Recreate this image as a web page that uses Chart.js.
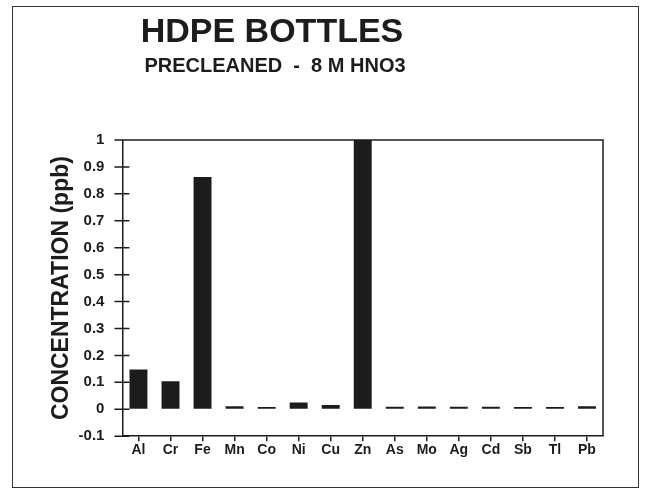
<!DOCTYPE html>
<html>
<head>
<meta charset="utf-8">
<script src="https://cdn.jsdelivr.net/npm/chart.js@4"></script>
<style>
    html, body { margin: 0; padding: 0; background: #fff; }
    #wrap { position: relative; width: 649px; height: 492px; }
    #frame { position: absolute; left: 12px; top: 6px; width: 625px; height: 480px; border: 1.5px solid #333; }
    canvas { position: absolute; left: 0; top: 0; }
</style>
</head>
<body>
<div id="wrap">
    <div id="frame"></div>
    <canvas id="chart" width="649" height="492"></canvas>
</div>
<script>
const elements = ['Al', 'Cr', 'Fe', 'Mn', 'Co', 'Ni', 'Cu', 'Zn', 'As', 'Mo', 'Ag', 'Cd', 'Sb', 'Tl', 'Pb'];
const concentration = [0.148, 0.104, 0.863, 0.011, 0.008, 0.025, 0.016, 1.0, 0.009, 0.010, 0.009, 0.009, 0.008, 0.008, 0.011];
const yMin = -0.1;
const yMax = 1;
const yStep = 0.1;

const ink = '#1c1c1c';
const font = "'Liberation Sans', Arial, sans-serif";

// titles centred a bit left of the canvas middle, like the scan
const titles = {
    id: 'titles',
    afterDraw(chart) {
        const ctx = chart.ctx;
        ctx.save();
        ctx.fillStyle = ink;
        ctx.textAlign = 'center';
        ctx.textBaseline = 'alphabetic';
        ctx.font = 'bold 34px ' + font;
        ctx.fillText('HDPE BOTTLES', 272, 42);
        ctx.font = 'bold 20px ' + font;
        ctx.fillText('PRECLEANED  -  8 M HNO3', 275, 72);
        ctx.restore();
    }
};

// y ticks crossing the axis, plus the top/right box lines
const axisBox = {
    id: 'axisBox',
    afterDraw(chart) {
        const {ctx, chartArea} = chart;
        const y = chart.scales.y;
        ctx.save();
        ctx.strokeStyle = ink;
        ctx.lineWidth = 1.5;
        ctx.beginPath();
        y.ticks.forEach((t) => {
            const py = y.getPixelForValue(t.value);
            ctx.moveTo(chartArea.left - 8, py);
            ctx.lineTo(chartArea.left + 7, py);
        });
        ctx.moveTo(chartArea.left, chartArea.top);
        ctx.lineTo(chartArea.right, chartArea.top);
        ctx.lineTo(chartArea.right, chartArea.bottom);
        ctx.stroke();
        ctx.restore();
    }
};

new Chart(document.getElementById('chart').getContext('2d'), {
    type: 'bar',
    data: {
        labels: elements,
        datasets: [{
            data: concentration,
            backgroundColor: ink,
            borderWidth: 0,
            categoryPercentage: 1,
            barPercentage: 0.56
        }]
    },
    options: {
        responsive: false,
        animation: false,
        layout: {
            padding: {top: 140, right: 46, bottom: 32, left: 48}
        },
        scales: {
            x: {
                grid: {
                    offset: false,
                    drawOnChartArea: false,
                    tickLength: 5,
                    color: ink,
                    lineWidth: 1.5
                },
                border: {color: ink, width: 1.5},
                ticks: {
                    color: ink,
                    padding: 1,
                    maxRotation: 0,
                    font: {family: font, size: 14, weight: 'bold'}
                }
            },
            y: {
                min: yMin,
                max: yMax,
                grid: {
                    drawOnChartArea: false,
                    tickLength: 15,
                    tickColor: 'rgba(0,0,0,0)'
                },
                border: {color: ink, width: 1.5},
                ticks: {
                    stepSize: yStep,
                    color: ink,
                    padding: 3,
                    font: {family: font, size: 15, weight: 'bold'},
                    callback: (v) => String(Number(v.toFixed(1)))
                },
                title: {
                    display: true,
                    text: 'CONCENTRATION (ppb)',
                    color: ink,
                    padding: 0,
                    font: {family: font, size: 23, weight: 'bold'}
                }
            }
        },
        plugins: {
            legend: {display: false},
            tooltip: {enabled: false}
        }
    },
    plugins: [titles, axisBox]
});
</script>
</body>
</html>
